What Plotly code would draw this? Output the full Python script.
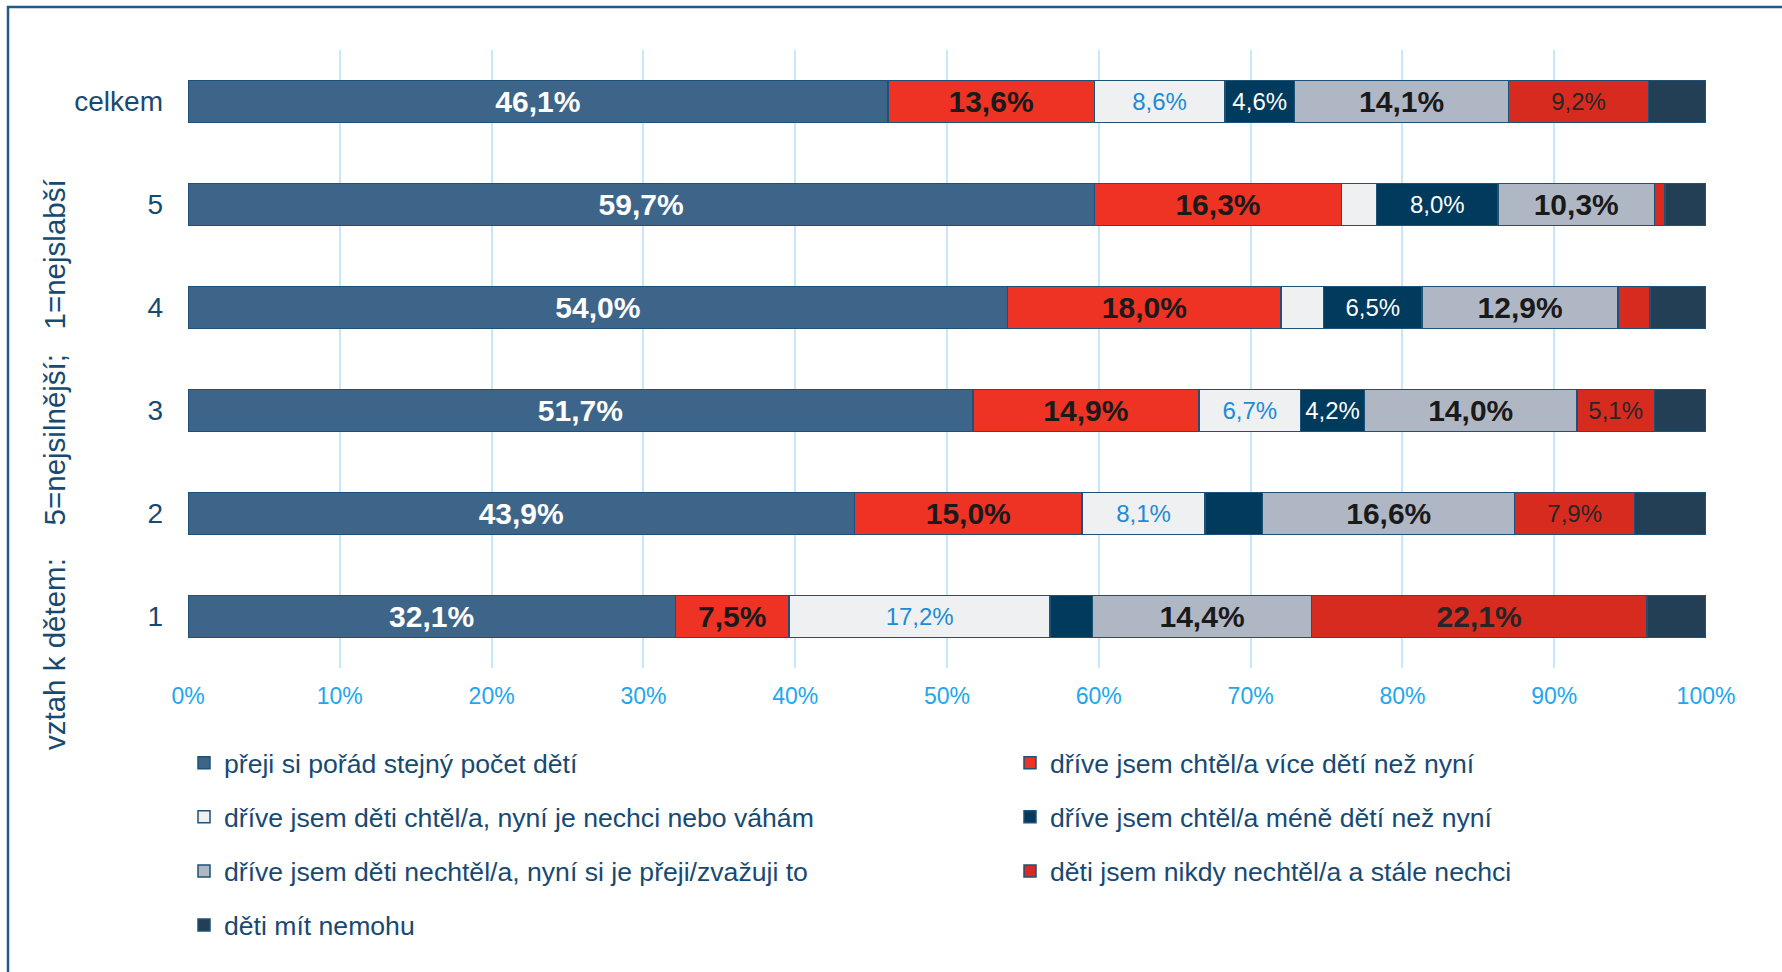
import plotly.graph_objects as go

categories = ["celkem", "5", "4", "3", "2", "1"]

series_names = [
    "přeji si pořád stejný počet dětí",
    "dříve jsem chtěl/a více dětí než nyní",
    "dříve jsem děti chtěl/a, nyní je nechci nebo váhám",
    "dříve jsem chtěl/a méně dětí než nyní",
    "dříve jsem děti nechtěl/a, nyní si je přeji/zvažuji to",
    "děti jsem nikdy nechtěl/a a stále nechci",
    "děti mít nemohu",
]

s1 = [46.1, 59.7, 54.0, 51.7, 43.9, 32.1]
s2 = [13.6, 16.3, 18.0, 14.9, 15.0, 7.5]
s3 = [8.6, 2.3, 2.8, 6.7, 8.1, 17.2]
s4 = [4.6, 8.0, 6.5, 4.2, 3.8, 2.8]
s5 = [14.1, 10.3, 12.9, 14.0, 16.6, 14.4]
s6 = [9.2, 0.7, 2.1, 5.1, 7.9, 22.1]
s7 = [3.8, 2.7, 3.7, 3.4, 4.7, 3.9]
series_values = [s1, s2, s3, s4, s5, s6, s7]

x_ticks = [0, 10, 20, 30, 40, 50, 60, 70, 80, 90, 100]
x_tick_labels = [f"{t}%" for t in x_ticks]

colors = ["#3D658A", "#EE3224", "#EFF0F2", "#003A5D", "#B0B7C4", "#D82B20", "#233F56"]
label_colors = ["#FFFFFF", "#1A1A1A", "#1E8BD6", "#FFFFFF", "#1A1A1A", "#262626", "#FFFFFF"]
# value threshold above which a label is bold/large (None = never)
bold_from = [0, 0, None, None, 0, 10, None]
show_from = [4.0, 4.0, 4.0, 4.0, 4.0, 4.0, 101]

FONT = "Liberation Sans, Arial, Helvetica, sans-serif"
BIG, SMALL = 30, 24


def fmt(v):
    return f"{v:.1f}".replace(".", ",") + "%"


fig = go.Figure()
for i, (name, vals) in enumerate(zip(series_names, series_values)):
    texts, sizes = [], []
    for v in vals:
        if v < show_from[i]:
            texts.append("")
            sizes.append(SMALL)
            continue
        if bold_from[i] is not None and v >= bold_from[i]:
            texts.append("<b>" + fmt(v) + "</b>")
            sizes.append(BIG)
        else:
            texts.append(fmt(v))
            sizes.append(SMALL)
    leg = "legend" if i % 2 == 0 else "legend2"
    fig.add_trace(go.Bar(
        name=name, y=categories, x=vals, orientation="h",
        marker=dict(color=colors[i], line=dict(color="#1E5177", width=1.5)),
        text=texts, textposition="inside", insidetextanchor="middle",
        textangle=0, constraintext="none",
        textfont=dict(color=label_colors[i], size=sizes, family=FONT),
        hoverinfo="skip", legend=leg, legendgroup=f"g{i}",
    ))

W, H = 1782, 972
L, R, T, B = 188, 76, 50, 304
pw, ph = W - L - R, H - T - B


def px(x):
    return (x - L) / pw


def py(y):
    return (H - B - y) / ph


legend_common = dict(xref="container", yref="container", y=1 - 739 / H,
                     xanchor="left", yanchor="top", orientation="v",
                     traceorder="grouped", tracegroupgap=16.5,
                     font=dict(size=26.6, color="#174A72", family=FONT),
                     bgcolor="rgba(0,0,0,0)")

fig.update_layout(
    width=W, height=H, barmode="stack", bargap=0.59,
    margin=dict(l=L, r=R, t=T, b=B, autoexpand=False),
    paper_bgcolor="white", plot_bgcolor="white",
    font=dict(family=FONT, color="#174A72"),
    xaxis=dict(range=[0, 100], tickvals=x_ticks, ticktext=x_tick_labels,
               showgrid=True, gridcolor="#C8E8F8", gridwidth=1.5, zeroline=False,
               showline=False, tickfont=dict(size=23, color="#21A6EE", family=FONT),
               ticklabelstandoff=12, fixedrange=True),
    yaxis=dict(type="category", categoryorder="array", categoryarray=categories,
               autorange="reversed", showgrid=False, zeroline=False, showline=False,
               tickfont=dict(size=28, color="#174A72", family=FONT),
               ticklabelstandoff=24, fixedrange=True),
    legend=dict(x=184 / W, **legend_common),
    legend2=dict(x=1010 / W, **legend_common),
    showlegend=True,
)

fig.add_annotation(
    xref="paper", yref="paper", x=px(54), y=py(465),
    text="vztah k dětem:" + "\u00a0" * 4 + "5=nejsilnější;" + "\u00a0" * 3 + "1=nejslabší",
    textangle=-90, showarrow=False, xanchor="center", yanchor="middle",
    font=dict(size=29.5, color="#174A72", family=FONT),
)

# frame lines (top and left) of the chart box
fig.add_shape(type="line", xref="paper", yref="paper",
              x0=px(7), x1=px(W + 5), y0=py(7), y1=py(7),
              line=dict(color="#215A82", width=2.5))
fig.add_shape(type="line", xref="paper", yref="paper",
              x0=px(8), x1=px(8), y0=py(6), y1=py(H + 5),
              line=dict(color="#215A82", width=2.5))

fig.write_html("out.html", config={"displayModeBar": False},
               post_script="document.body.style.margin='0';")
